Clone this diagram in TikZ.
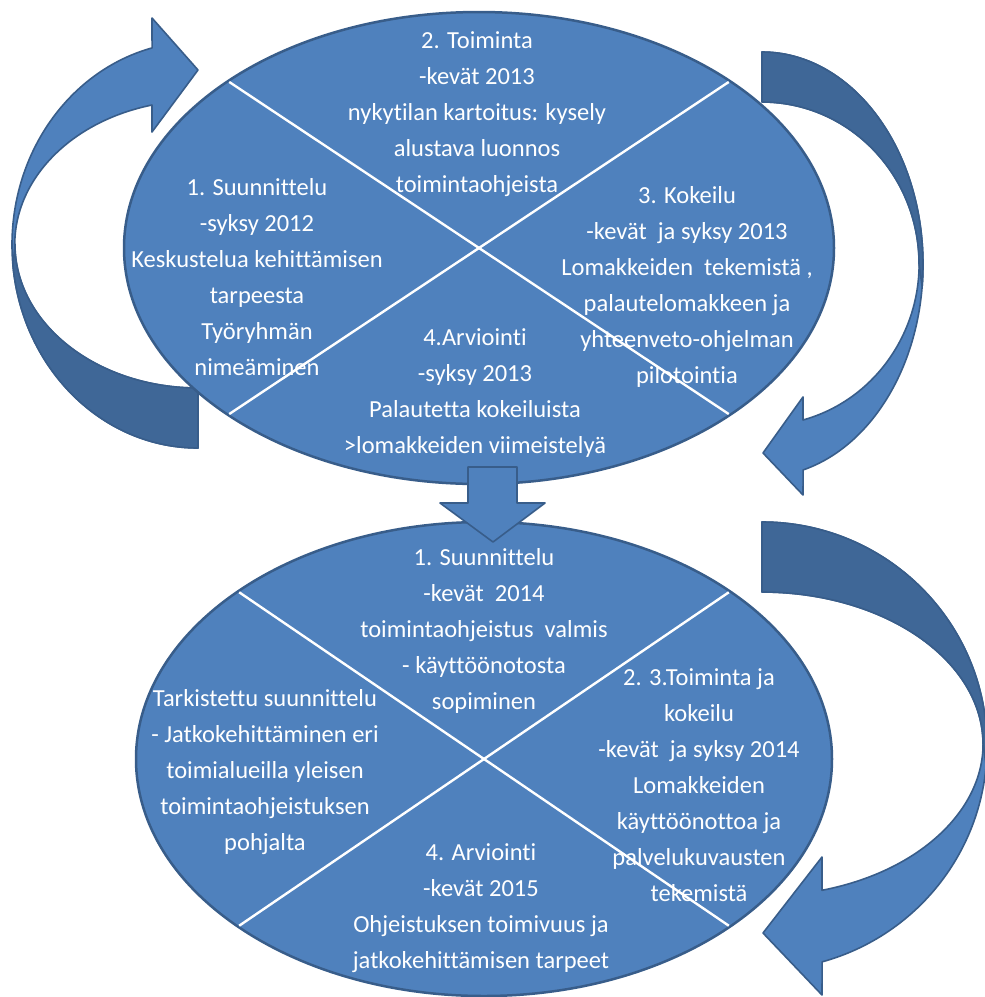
\documentclass[tikz,border=0pt]{standalone}
\usepackage{fontspec}
\setmainfont{Carlito}[Ligatures=NoCommon]
\usetikzlibrary{shapes.geometric}
\definecolor{fillblue}{RGB}{79,129,189}
\definecolor{edgeblue}{RGB}{56,93,138}
\definecolor{shadeblue}{RGB}{63,103,151}
% centred lines; the first line's baseline is the node's baseline
\newcommand\lineblock[1]{\begin{tabular}[t]{@{}c@{}}#1\end{tabular}}
\begin{document}
\begin{tikzpicture}[x=1pt,y=-1pt,
  disc/.style={ellipse, draw=edgeblue, line width=2.5pt, fill=fillblue,
    inner sep=0pt, outer sep=0pt},
  divider/.style={draw=white, line width=2.4pt, shorten >=1.5pt, shorten <=1.5pt},
  bandlight/.style={fill=fillblue, draw=edgeblue, line width=1.6pt, line join=round},
  banddark/.style={fill=shadeblue, draw=edgeblue, line width=1.6pt, line join=round},
  txt/.style={text=white, inner sep=0pt, anchor=base,
    font=\fontsize{24.5}{36}\selectfont}]
\useasboundingbox (0,0) rectangle (985,997);
\fill[white] (0,0) rectangle (985,997);

% curved arrow on the left of the upper cycle
\path[bandlight] (198,448) arc[start angle=90,end angle=255.7,x radius=186,y radius=203.2]
  -- (152,18) -- (198,70) -- (152,132) -- (152,105)
  arc[start angle=255.5,end angle=90,x radius=183,y radius=143.8] -- cycle;
\path[banddark] (198,448) arc[start angle=90,end angle=174,x radius=186,y radius=203.2]
  -- (15,244.2) arc[start angle=180,end angle=90,x radius=183,y radius=143.8] -- cycle;

% curved arrow on the right of the upper cycle
\path[bandlight] (762,52) arc[start angle=270,end angle=435.2,x radius=161,y radius=212.5]
  -- (803,495) -- (763,453) -- (803,397) -- (803,420)
  arc[start angle=434.9,end angle=270,x radius=157,y radius=161.8] -- cycle;
\path[banddark] (762,52) arc[start angle=270,end angle=366,x radius=161,y radius=212.5]
  -- (919,263.8) arc[start angle=360,end angle=270,x radius=157,y radius=161.8] -- cycle;

% curved arrow on the right of the lower cycle
\path[bandlight] (762,522) arc[start angle=270,end angle=434.5,x radius=225,y radius=224]
  -- (822,995) -- (763,933) -- (822,857) -- (822,890.3)
  arc[start angle=434.25,end angle=270,x radius=221,y radius=152] -- cycle;
\path[banddark] (762,522) arc[start angle=270,end angle=365,x radius=225,y radius=224]
  -- (983,744) arc[start angle=360,end angle=270,x radius=221,y radius=152] -- cycle;

% the two cycles
\node[disc, minimum width=710pt, minimum height=472pt] (upper) at (479,248) {};
\node[disc, minimum width=696pt, minimum height=474pt] (lower) at (484,759) {};
\draw[divider] (upper.north west) -- (upper.south east);
\draw[divider] (upper.north east) -- (upper.south west);
\draw[divider] (lower.north west) -- (lower.south east);
\draw[divider] (lower.north east) -- (lower.south west);

% arrow from the upper cycle down to the lower one
\path[bandlight] (468,467) -- (517,467) -- (517,503) -- (545,503) -- (493,542)
  -- (440,503) -- (468,503) -- cycle;

% phases of the upper cycle
\node[txt] (u2) at (477,48) {\lineblock{2. Toiminta\\-kevät 2013\\nykytilan kartoitus: kysely\\alustava luonnos\\toimintaohjeista}};
\node[txt] (u1) at (257,195) {\lineblock{1. Suunnittelu\\-syksy 2012\\Keskustelua kehittämisen\\tarpeesta\\Työryhmän\\nimeäminen}};
\node[txt] (u3) at (687,203) {\lineblock{3. Kokeilu\\-kevät\ \ ja syksy 2013\\Lomakkeiden\ \ tekemistä ,\\palautelomakkeen ja\\yhteenveto-ohjelman\\pilotointia}};
\node[txt] (u4) at (475,345) {\lineblock{4.Arviointi\\-syksy 2013\\Palautetta kokeiluista\\>lomakkeiden viimeistelyä}};

% phases of the lower cycle
\node[txt] (l1) at (484,565) {\lineblock{1. Suunnittelu\\-kevät\ \ 2014\\toimintaohjeistus\ \ valmis\\- käyttöönotosta\\sopiminen}};
\node[txt] (l0) at (265,706) {\lineblock{Tarkistettu suunnittelu\\- Jatkokehittäminen eri\\toimialueilla yleisen\\toimintaohjeistuksen\\pohjalta}};
\node[txt] (l3) at (699,685) {\lineblock{2. 3.Toiminta ja\\kokeilu\\-kevät\ \ ja syksy 2014\\Lomakkeiden\\käyttöönottoa ja\\palvelukuvausten\\tekemistä}};
\node[txt] (l4) at (481,860) {\lineblock{4. Arviointi\\-kevät 2015\\Ohjeistuksen toimivuus ja\\jatkokehittämisen tarpeet}};
\end{tikzpicture}
\end{document}
